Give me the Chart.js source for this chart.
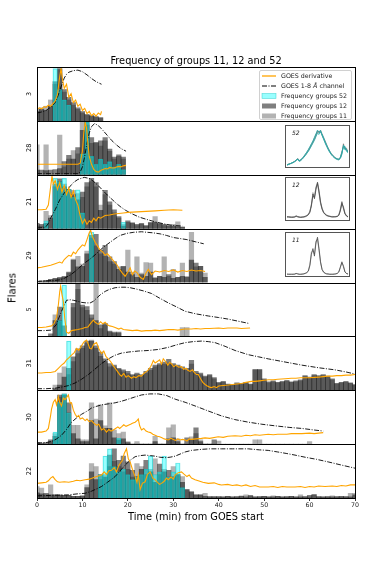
<!DOCTYPE html>
<html><head><meta charset="utf-8">
<script src="https://cdn.jsdelivr.net/npm/chart.js@4.4.0/dist/chart.umd.min.js"></script>
<style>
body{margin:0;background:#fff;width:374px;height:561px;overflow:hidden;font-family:'DejaVu Sans',sans-serif;}
#wrap{position:relative;width:374px;height:561px;}
#main{position:absolute;left:0;top:0;}
.txt{position:absolute;color:#000;white-space:nowrap;}
.inset{position:absolute;border:1px solid #555;background:#fff;box-sizing:border-box;}
.inset canvas{position:absolute;left:0;top:0;}
.ilab{position:absolute;font-style:italic;font-size:6px;color:#222;left:6px;top:3px;}
#legend{position:absolute;left:259px;top:70px;width:93px;height:50px;border:1px solid #d0d0d0;border-radius:2px;background:rgba(255,255,255,0.9);box-sizing:border-box;font-size:6.3px;color:#222;}
.lrow{position:absolute;left:0;height:10px;line-height:10px;width:92px;}
.lrow svg{position:absolute;left:1px;top:2px;}
.lrow span{position:absolute;left:21px;}
</style></head>
<body><div id="wrap">
<canvas id="main" width="374" height="561"></canvas>
<div class="txt" style="left:37px;width:318px;top:55px;text-align:center;font-size:9.8px;line-height:11px;">Frequency of groups 11, 12 and 52</div>
<div class="txt" style="left:12px;top:288px;font-size:10px;color:#000;transform:translate(-50%,-50%) rotate(-90deg);">Flares</div>
<div id="legend">
 <div class="lrow" style="top:0px"><svg width="16" height="6"><line x1="1" y1="3" x2="15" y2="3" stroke="#FFA500" stroke-width="1.3"/></svg><span>GOES derivative</span></div>
 <div class="lrow" style="top:10px"><svg width="16" height="6"><line x1="1" y1="3" x2="15" y2="3" stroke="#000" stroke-width="1" stroke-dasharray="5,1.5,1,1.5"/></svg><span>GOES 1-8 <i>Å</i> channel</span></div>
 <div class="lrow" style="top:20px"><svg width="16" height="6"><rect x="1" y="0.5" width="14" height="5" fill="rgba(0,255,255,0.4)" stroke="rgba(0,190,190,0.6)" stroke-width="0.6"/></svg><span>Frequency groups 52</span></div>
 <div class="lrow" style="top:30px"><svg width="16" height="6"><rect x="1" y="0.5" width="14" height="5" fill="rgba(0,0,0,0.5)"/></svg><span>Frequency groups 12</span></div>
 <div class="lrow" style="top:40px"><svg width="16" height="6"><rect x="1" y="0.5" width="14" height="5" fill="rgba(128,128,128,0.6)"/></svg><span>Frequency groups 11</span></div>
</div>
<div class="inset" style="left:285px;top:125px;width:65px;height:43px;"><canvas id="in52" width="63" height="41"></canvas><div class="ilab">52</div></div>
<div class="inset" style="left:285px;top:177px;width:65px;height:44px;"><canvas id="in12" width="63" height="42"></canvas><div class="ilab">12</div></div>
<div class="inset" style="left:285px;top:232px;width:65px;height:45px;"><canvas id="in11" width="63" height="43"></canvas><div class="ilab">11</div></div>
</div>
<script>
// ---------------- DATA ----------------
const panelLabels = ['3','28','21','29','5','31','30','22'];
const xTicks = [0,10,20,30,40,50,60,70];

// histogram bins: index = minute (bin centre)
const p1_g11 = [22,25,28,40,70,98,55,40,30,22,15,12,10,8,6];
const p1_g12 = [18,22,20,28,75,100,60,45,35,25,18,12,10,8,6];
const p1_g52 = [0,0,0,0,100,60,40,30];

const p2_g11 = [57,0,57,0,0,76,15,30,46,40,100,95,60,60,55,65,45,30,35,30];
const p2_g12 = [9,9,8,9,10,12,25,37,30,52,85,100,71,62,65,71,49,34,38,34];
const p2_g52 = [0,0,0,0,0,0,0,0,0,0,40,100,35,20,30,20,25,15,20,10];

const p3_g11 = [5,5,33,25,80,90,85,70,73,67,60,80,90,80,45,65,45,30,20,8,12,12,6,8,5,10,23,8,6,5,8,13,3];
const p3_g12 = [10,8,10,20,85,95,80,75,65,55,70,88,96,88,35,73,51,36,23,5,15,10,8,10,6,12,12,10,8,6,5,4,3];
const p3_g52 = [0,0,15,0,96,90,96,75,60,74,30,0,0,0,0,0,0,0,0,12];

const p4_g11 = [0,0,3,5,7,8,10,18,45,50,35,60,85,70,55,50,40,35,30,30,62,20,49,18,38,37,10,12,49,12,25,10,37,12,96,30,31,18];
const p4_g12 = [0,3,4,6,8,10,12,20,43,30,31,55,90,92,62,71,49,40,25,31,20,15,10,15,12,20,8,12,10,15,8,10,12,10,43,37,31,10];
const p4_g52 = [0,0,0,0,0,0,0,0,0,0,0,0,96];

const p5_g11 = [0,0,0,0,41,30,0,0,55,90,55,50,35,100,15,22,8,6,6,0,0,0,0,0,0,0,0,0,0,0,0,0,17,17];
const p5_g12 = [0,0,0,5,30,56,20,0,63,100,60,57,41,30,22,25,10,8,8];
const p5_g52 = [0,0,0,0,0,30,98];

const p6_g11 = [0,0,0,0,10,33,45,30,55,70,80,90,96,80,65,55,45,45,40,35,32,28,30,28,33,38,45,48,50,52,48,45,40,38,50,33,30,25,28,22,13,15,11,10,12,12,14,11,38,38,20,14,16,14,15,17,15,16,18,26,23,28,26,28,25,20,12,14,15,13,10];
const p6_g12 = [0,0,0,0,3,10,25,42,64,79,85,94,94,85,73,60,51,48,42,39,36,30,33,30,36,42,48,51,54,59,51,48,45,42,57,36,33,27,30,24,15,17,12,11,14,13,15,12,40,40,22,16,18,15,17,19,16,18,20,28,25,30,28,30,27,22,13,15,17,14,11];
const p6_g52 = [0,0,0,0,0,0,0,94];

const p7_g11 = [3,0,0,5,20,90,96,60,36,36,8,8,79,48,75,35,79,27,20,23,5,0,5,0,0,0,15,0,0,31,37,10,0,0,14,20,8,0,0,0,6,0,0,0,0,0,0,0,8,8,0,0,0,0,0,0,0,0,0,0,5];
const p7_g12 = [3,2,3,8,15,94,94,79,20,10,5,5,45,10,45,30,30,12,8,10,3,0,0,0,0,0,5,0,0,10,12,5,0,12,8,31,5,0,0,8];
const p7_g52 = [0,0,0,0,23,80,96,60,0,0,0,0,0,0,0,0,0,0,11];

const p8_g11 = [22,19,6,25,6,5,5,5,3,3,5,25,66,60,35,45,60,70,60,50,55,40,66,60,45,55,75,45,55,40,60,45,41,16,12,6,6,9,3,3,3,2,3,2,3,4,6,3,2,3,3,2,4,3,2,3,3,2,6,3,2,7,3,2,3,4,3,2,3,9,9];
const p8_g12 = [10,8,9,6,6,6,5,5,3,3,3,20,50,35,45,40,82,94,72,80,69,53,41,55,72,50,30,65,50,53,41,45,30,16,12,6,6,3,2,2,2,2,3,2,2,3,2,5,2,2,3,2,2,3,2,2,3,2,2,2,5,6,2,2,2,2,2,3,2,2,6];
const p8_g52 = [0,0,0,0,0,0,0,0,0,0,0,0,0,0,45,80,94,60,50,55,45,35,40,45,55,80,45,50,80,40,50,67,20];

// GOES derivative [minute, value] (values scaled to panel, 0-100)
const p1_deriv = [[0,22],[0.5,25],[1,23],[1.5,27],[2,26],[2.5,30],[3,28],[3.5,33],[4,38],[4.5,50],[5,85],[5.3,100],[5.6,80],[6,62],[6.5,70],[7,45],[7.5,52],[8,35],[8.5,40],[9,28],[9.5,32],[10,20],[10.5,24],[11,14],[11.5,18],[12,10],[12.5,14],[13,9],[13.5,15],[14,12],[14.2,18]];
const p2_deriv = [[0,20],[1,20],[2,20],[3,20],[4,20],[5,20],[6,20],[7,20],[8,20],[9,20],[9.5,22],[10,45],[10.3,80],[10.6,100],[10.9,90],[11.2,60],[11.5,35],[12,20],[12.5,10],[13,6],[13.5,5],[14,8],[14.5,10],[15,12],[15.5,11],[16,14],[16.5,13],[17,13],[17.5,15],[18,16],[18.5,15],[19,17],[19.6,18]];
const p3_deriv = [[0,36],[1,36],[2,37],[2.5,45],[3,80],[3.3,100],[3.6,85],[4,92],[4.5,75],[5,88],[5.5,70],[6,82],[6.5,65],[7,78],[7.5,60],[8,72],[8.5,55],[9,45],[9.5,25],[10,10],[10.5,18],[11,8],[11.5,15],[12,12],[12.5,20],[13,15],[13.5,22],[14,20],[15,25],[16,26],[17,28],[18,29],[19,30],[20,31],[22,32],[24,33],[26,34],[28,35],[30,36],[32,35]];
const p4_deriv = [[0,28],[1,29],[2,31],[3,33],[4,36],[5,39],[5.5,37],[6,44],[6.5,48],[7,52],[7.5,50],[8,58],[8.5,55],[9,62],[9.5,67],[10,72],[10.5,70],[11,82],[11.5,95],[11.8,100],[12.2,88],[12.8,77],[13.3,70],[13.9,62],[14.5,58],[15,52],[15.5,55],[16.1,49],[16.8,42],[17.6,34],[18.2,25],[18.8,18],[19.4,12],[20,20],[20.5,28],[21,15],[21.5,22],[22,19],[22.7,10],[23.4,6],[24,18],[24.5,25],[25.2,15],[26,22],[27,20],[28,23],[29,21],[30,24],[31,20],[32,23],[33,21],[34,24],[35,22],[36,23],[37,21]];
const p5_deriv = [[0,17],[1,17],[2,18],[3.2,20],[3.8,25],[4.3,36],[4.7,60],[5,85],[5.2,96],[5.5,80],[5.8,67],[6.1,35],[6.5,8],[7,6],[7.6,11],[8.2,12],[9,13],[10,15],[10.6,17],[11.2,18],[11.8,25],[12.4,31],[12.8,27],[13.5,23],[14,28],[14.5,24],[15,27],[15.5,22],[16,20],[16.6,19],[17.2,17],[18,14],[18.5,16],[19,13],[20.1,12],[21,11],[22,12],[23,10],[24,11],[25.2,11],[26,12],[27,11],[28,12],[29,13],[30,13],[31,12],[32.6,14],[34,14],[35,15],[36,14],[37,15],[38,15],[40,16],[41,15],[42,16],[43,16],[44,16],[45,15],[46.9,16]];
const p6_deriv = [[0,33],[1,33],[2,34],[3,34],[4,36],[4.7,42],[5.4,48],[6,52],[6.5,58],[7,62],[7.6,67],[8.2,72],[8.7,80],[9.2,76],[9.8,85],[10.3,92],[10.9,96],[11.3,88],[11.6,80],[12,79],[12.5,88],[13.1,91],[13.6,80],[14.2,70],[14.7,75],[15.2,64],[15.7,60],[16.2,55],[16.7,48],[17.2,42],[17.7,36],[18.2,30],[18.6,27],[19.1,32],[19.6,25],[20.1,28],[20.8,23],[21.3,26],[21.8,24],[22.4,28],[23,27],[23.5,32],[24,35],[24.5,39],[25,45],[25.3,50],[25.6,57],[26,52],[26.5,55],[27,58],[27.4,50],[27.8,60],[28.3,55],[28.8,48],[29.2,53],[29.6,51],[30.1,45],[30.6,48],[31.2,44],[31.8,45],[32.3,40],[32.8,42],[33.2,38],[33.7,36],[34.2,39],[34.7,33],[35.1,30],[35.5,30],[36,22],[36.5,15],[37,11],[37.5,8],[38,6],[38.4,5],[39,7],[39.5,5],[40,8],[41,9],[42.1,10],[43,11],[44,12],[45,13],[46,15],[47.2,17],[48,17],[49,18],[50,19],[51,20],[52,20],[53,21],[54.6,22],[56,23],[57,23],[58,24],[59,24],[60,24],[61.9,25],[63,26],[64,27],[65,27],[66,28],[67,28],[68,29],[69,29],[70,30]];
const p7_deriv = [[0,23],[1,23],[2,25],[2.5,30],[3,55],[3.2,67],[3.6,80],[4,85],[4.3,75],[4.7,91],[5,80],[5.4,73],[5.8,88],[6.2,85],[6.6,90],[6.9,94],[7.3,78],[7.6,79],[8,65],[8.4,57],[8.8,52],[9.2,55],[9.5,48],[10,50],[10.6,45],[11,48],[11.5,43],[12,45],[12.5,40],[13.1,36],[13.6,38],[14.2,27],[14.7,30],[15.3,23],[15.8,28],[16.3,25],[16.8,27],[17.3,30],[17.8,33],[18.2,30],[18.6,33],[19.1,37],[19.6,34],[20.1,36],[20.6,38],[21,40],[21.6,42],[22,45],[22.3,48],[22.6,35],[23,27],[23.5,30],[24,25],[24.5,23],[25,22],[25.5,19],[26,17],[26.5,15],[27,14],[27.5,12],[28,10],[28.9,8],[29.5,11],[30,9],[30.5,7],[31,10],[31.5,8],[32,9],[32.6,8],[33,6],[33.5,10],[34,9],[35,10],[36.2,11],[37,12],[38,11],[39.9,14],[41,13],[42,15],[43.6,16],[45,15],[46,17],[47,16],[48,18],[49,17],[50.9,19],[52,18],[53,19],[55,19],[56,20],[58.3,20],[60,21],[61,20],[62,21],[63,22]];
const p8_deriv = [[0,28],[1,29],[2,30],[2.5,33],[3,38],[3.5,41],[4,35],[4.5,31],[5,30],[6,31],[7,30],[8,32],[8.7,34],[9.5,33],[10.6,35],[11.5,36],[12.8,40],[13.5,42],[14.2,44],[14.8,50],[15.3,45],[15.8,52],[16.4,53],[17,58],[17.5,50],[18,62],[18.3,66],[18.8,72],[19.2,85],[19.7,94],[20.1,75],[20.5,69],[21,55],[21.6,41],[22,30],[22.3,45],[22.7,16],[23.2,28],[23.8,31],[24.3,45],[24.9,50],[25.5,38],[26,35],[26.5,30],[27,26],[27.4,28],[28,32],[28.5,38],[28.9,35],[29.5,40],[30,36],[30.4,44],[31,48],[31.8,50],[32.3,46],[33,41],[33.5,44],[34,38],[34.8,35],[35.5,33],[36.5,30],[37.7,28],[39,29],[40,26],[40.6,25],[42,26],[43,24],[44,25],[45,23],[46,25],[47,22],[48,24],[49,21],[50.9,21],[52,22],[53,20],[54,22],[55,21],[56.8,21],[58,22],[59,20],[60,22],[61,21],[62,23],[63.4,22],[65,23],[66,22],[67,24],[68,23],[69,25],[70,25]];

// GOES 1-8 A channel [minute, value]
const p1_goes = [[0,15],[1,17],[2,20],[3,26],[4,35],[4.5,45],[5,58],[5.5,70],[6,82],[6.5,89],[7,93],[8,96],[9,97],[10,94],[11,88],[12,81],[13,75],[14.2,70]];
const p2_goes = [[0,2],[9,2],[9.5,5],[10,15],[10.5,35],[11,60],[11.5,80],[12,92],[12.7,98],[13.5,94],[14.5,85],[15.5,75],[16.5,65],[17.5,57],[18.5,50],[19.6,45]];
const p3_goes = [[0,1],[1.5,2],[2,4],[2.5,10],[3,20],[4,36],[5,55],[6,68],[7,78],[8,88],[9,94],[10.4,98],[11.5,96],[12.5,90],[13.5,82],[14.5,73],[15.5,64],[16.5,56],[17.5,48],[18.5,41],[19.5,35],[21,28],[22.5,22],[24,18],[26,13],[28,9],[30,6],[32,5]];
const p4_goes = [[0,2],[2,3],[4,4],[5,5],[6,8],[7.3,14],[8.5,22],[9.5,30],[10.6,38],[11.7,45],[12.8,53],[13.9,62],[15,70],[16.1,77],[17.2,84],[18.3,90],[19.8,94],[21.3,96],[23,97],[24.2,96],[25.5,95],[27.1,93],[28.5,90],[30,86],[31.5,84],[33,82],[34.8,78],[36.7,74]];
const p5_goes = [[0,11],[1.5,11],[3.2,12],[4.3,23],[4.8,35],[5.4,48],[6,60],[6.5,69],[7.3,70],[8,69],[9,67],[9.8,65],[10.8,64],[11.7,64],[12.4,67],[13.1,73],[14,80],[15,86],[16,90],[17.2,93],[18.3,94],[19.4,94],[20.5,93],[21.6,91],[23.4,87],[25.2,82],[27,73],[28.9,64],[30.8,56],[32.6,48],[35,43],[37.7,39],[40,36],[42.1,33],[44.3,29],[46.5,25]];
const p6_goes = [[0,3],[2,3],[4,4],[5.4,6],[7,9],[8.4,14],[9.8,21],[11.3,30],[12.7,40],[14.2,51],[15.7,60],[17.2,67],[18.6,71],[20.1,73],[22.3,75],[24.5,76],[26.7,78],[28.9,82],[30.8,87],[32.6,91],[34.4,93],[36.2,94],[37.7,93],[39.2,91],[41.4,84],[43.6,76],[46.5,68],[48.7,64],[50.9,60],[54.6,54],[58.3,48],[62,43],[65.6,39],[68,35],[70,31]];
const p7_goes = [[0,2],[2,3],[3.2,5],[4.3,10],[5.4,17],[6.5,28],[7.6,42],[8.7,50],[9.8,57],[11,63],[12,69],[13,72],[14.2,75],[15.7,77],[17.2,79],[18.6,82],[20.1,86],[21.5,90],[23,94],[24.8,96],[26.7,96],[28.5,93],[30.4,86],[32.6,80],[34.8,73],[37.5,64],[40.6,54],[43.5,47],[46.5,42],[49.5,38],[52.4,35],[55.5,32],[58.3,30],[61,27],[63,25]];
const p8_goes = [[0,4],[3,5],[6.9,6],[9,8],[10.6,9],[12,13],[13,17],[14.2,22],[15.5,30],[16.3,35],[17.2,41],[18.3,52],[19.4,63],[20.5,72],[21.6,79],[22.7,81],[23.8,82],[25,81],[26,80],[27,78],[28.2,77],[29.3,78],[30.4,80],[31.5,84],[32.6,88],[34,91],[36.2,93],[38,94],[40.6,94],[43,94],[46.5,94],[49,92],[50.9,91],[53,88],[55,85],[56.8,82],[59,78],[61.5,74],[64.1,69],[67,63],[70,57]];

// inset spectra (41 samples across each inset)
const in52_a = [4,5,6,8,10,12,16,21,14,16,20,25,30,36,42,50,58,66,74,85,98,92,100,90,80,70,60,50,42,35,30,26,22,20,18,22,35,62,48,50,38];
const in52_b = [3,5,7,7,11,13,15,19,15,17,22,26,32,38,45,52,60,68,78,88,95,97,96,86,76,66,56,47,40,33,28,24,21,19,19,25,40,55,52,44,40];
const in52_c = [2,4,6,8,9,12,15,20,13,15,19,24,29,35,41,48,56,64,72,82,92,88,99,85,75,64,55,46,38,32,27,23,20,18,17,21,33,58,45,47,36];
const in52_d = [3,5,6,9,10,13,17,18,15,18,21,27,33,39,46,54,62,70,80,90,100,94,95,88,78,68,58,49,41,34,29,25,22,20,19,24,38,52,55,41,42];
const in12_a = [6,6,5,5,5,6,8,6,5,5,5,6,7,9,12,18,35,68,55,80,100,75,45,28,18,13,10,8,7,6,6,6,6,7,10,22,45,30,14,8,6];
const in12_b = [5,5,5,4,5,5,7,6,5,4,5,5,6,8,11,20,40,62,60,85,95,70,42,26,17,12,9,8,7,6,5,6,6,7,11,25,40,34,16,9,5];
const in12_c = [7,6,6,6,5,6,9,7,6,5,6,6,8,10,13,22,38,72,58,88,98,78,48,30,19,14,11,9,8,7,7,6,7,8,12,28,48,28,15,9,7];
const in11_a = [2,2,2,2,2,2,4,3,2,2,2,3,4,6,10,25,55,70,50,85,100,70,35,15,8,5,3,3,2,2,2,2,3,4,8,20,35,22,8,4,3];
const in11_b = [3,2,2,2,2,3,4,3,2,2,3,3,5,7,12,28,60,65,55,90,95,65,32,14,7,4,3,2,2,2,2,3,3,5,9,22,32,25,9,4,2];

// ---------------- BUILD ----------------
Chart.defaults.font.family = "'DejaVu Sans', sans-serif";
const panels = [
  {g11:p1_g11,g12:p1_g12,g52:p1_g52,deriv:p1_deriv,goes:p1_goes},
  {g11:p2_g11,g12:p2_g12,g52:p2_g52,deriv:p2_deriv,goes:p2_goes},
  {g11:p3_g11,g12:p3_g12,g52:p3_g52,deriv:p3_deriv,goes:p3_goes},
  {g11:p4_g11,g12:p4_g12,g52:p4_g52,deriv:p4_deriv,goes:p4_goes},
  {g11:p5_g11,g12:p5_g12,g52:p5_g52,deriv:p5_deriv,goes:p5_goes},
  {g11:p6_g11,g12:p6_g12,g52:p6_g52,deriv:p6_deriv,goes:p6_goes},
  {g11:p7_g11,g12:p7_g12,g52:p7_g52,deriv:p7_deriv,goes:p7_goes},
  {g11:p8_g11,g12:p8_g12,g52:p8_g52,deriv:p8_deriv,goes:p8_goes}
];
const pairs = a => a.map(p => ({x:p[0], y:p[1]}));
const bins = a => a.map((v,i) => ({x:i, y:v}));
const yid = i => 'y' + (i+1);

const datasets = [];
panels.forEach((p,i) => {
  datasets.push({type:'line', data:pairs(p.deriv), yAxisID:yid(i), borderColor:'#FFA500', borderWidth:1.1, pointRadius:0, tension:0});
  datasets.push({type:'line', data:pairs(p.goes), yAxisID:yid(i), borderColor:'#000', borderWidth:0.9, borderDash:[5,1.5,1,1.5], pointRadius:0, tension:0});
});
const barCommon = {type:'bar', grouped:false, barPercentage:1, categoryPercentage:1};
panels.forEach((p,i) => {
  datasets.push(Object.assign({data:bins(p.g52), yAxisID:yid(i), backgroundColor:'rgba(0,255,255,0.4)', borderColor:'rgba(0,190,190,0.5)', borderWidth:0.5}, barCommon));
  datasets.push(Object.assign({data:bins(p.g12), yAxisID:yid(i), backgroundColor:'rgba(0,0,0,0.5)', borderWidth:0}, barCommon));
  datasets.push(Object.assign({data:bins(p.g11), yAxisID:yid(i), backgroundColor:'rgba(128,128,128,0.6)', borderWidth:0}, barCommon));
});

const scales = {
  x: {type:'linear', position:'bottom', min:0, max:70, offset:false,
      afterBuildTicks: s => { s.ticks = xTicks.map(v => ({value:v})); },
      ticks:{font:{size:6.3}, color:'#222', padding:1, maxRotation:0, autoSkip:false},
      grid:{display:true, offset:false, drawOnChartArea:false, drawTicks:true, tickLength:3, color:'#000', lineWidth:0.8},
      border:{display:false},
      title:{display:true, text:'Time (min) from GOES start', font:{size:9.8}, color:'#000', padding:{top:0,bottom:5}},
      afterFit: s => { s.height = 30; }
  }
};
for (let i = panels.length - 1; i >= 0; i--) {
  scales[yid(i)] = {type:'linear', position:'left', stack:'panels', stackWeight:1, min:0, max:103,
    ticks:{display:false}, grid:{display:false}, border:{display:false},
    title:{display:true, text:panelLabels[i], font:{size:6.5}, color:'#000', padding:0},
    afterFit: s => { s.width = 12; }
  };
}

const framePlugin = {
  id:'frames',
  afterDatasetsDraw(chart){
    const {ctx, chartArea} = chart;
    ctx.save();
    ctx.strokeStyle = '#000'; ctx.lineWidth = 1;
    panels.forEach((p,i) => {
      const s = chart.scales[yid(i)];
      const l = Math.round(chartArea.left) + 0.5, r = Math.round(chartArea.right) + 0.5;
      const t = Math.round(s.top) + 0.5, b = Math.round(s.bottom) + 0.5;
      ctx.strokeRect(l, t, r - l, b - t);
    });
    ctx.restore();
  }
};

new Chart(document.getElementById('main'), {
  type:'bar',
  data:{datasets},
  options:{
    responsive:false, animation:false, devicePixelRatio:1,
    layout:{padding:{left:25, right:19, top:67, bottom:33}},
    scales,
    plugins:{legend:{display:false}, tooltip:{enabled:false}, title:{display:false}}
  },
  plugins:[framePlugin]
});

function makeInset(id, series, colors){
  new Chart(document.getElementById(id), {
    type:'line',
    data:{datasets: series.map((s,i) => ({data:s.map((v,j)=>({x:j,y:v})), borderColor:colors[i], borderWidth:1, pointRadius:0, tension:0}))},
    options:{responsive:false, animation:false, devicePixelRatio:1,
      layout:{padding:{left:1,right:1,top:2,bottom:1}},
      scales:{x:{type:'linear', display:false, min:0, max:40}, y:{display:false, min:0, max:106}},
      plugins:{legend:{display:false}, tooltip:{enabled:false}}}
  });
}
makeInset('in52', [in52_c, in52_d, in52_a, in52_b], ['rgba(40,170,170,0.85)','rgba(40,170,170,0.85)','rgba(90,90,90,0.6)','rgba(90,90,90,0.6)']);
makeInset('in12', [in12_a, in12_b, in12_c], ['rgba(60,60,60,0.7)','rgba(90,90,90,0.6)','rgba(110,110,110,0.5)']);
makeInset('in11', [in11_a, in11_b], ['rgba(60,60,60,0.7)','rgba(100,100,100,0.6)']);
</script>
</body></html>
